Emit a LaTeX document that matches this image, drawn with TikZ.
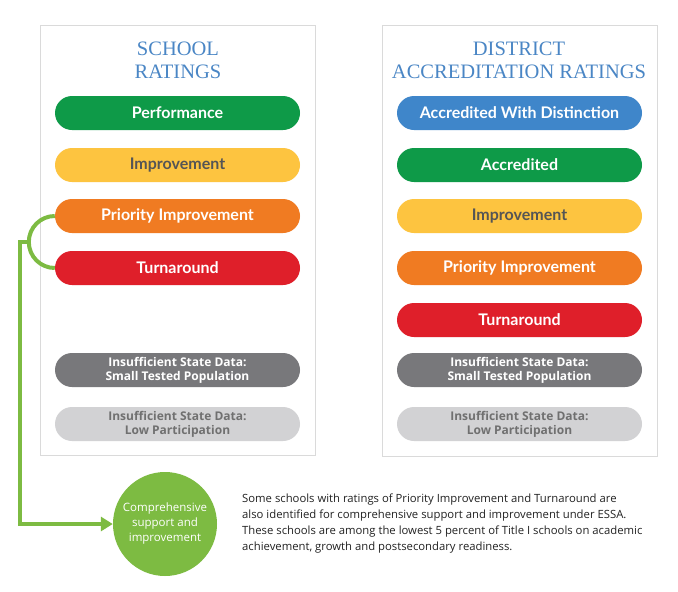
\documentclass[tikz,border=0pt]{standalone}
\usepackage{fontspec}
\setmainfont{Open Sans}
\newfontfamily\pillfont{Lato}[UprightFont={* Bold}]
\newfontfamily\titlefont{Liberation Serif}
\usetikzlibrary{arrows.meta}
\definecolor{ttlblue}{HTML}{4A86C5}
\definecolor{cgreen}{HTML}{0E9A48}
\definecolor{cyellow}{HTML}{FDC440}
\definecolor{corange}{HTML}{F07B22}
\definecolor{cred}{HTML}{DF1F2A}
\definecolor{cblue}{HTML}{3F86CA}
\definecolor{cgray}{HTML}{78787B}
\definecolor{clgray}{HTML}{D2D2D4}
\definecolor{lime}{HTML}{7DBB42}
\definecolor{panelline}{HTML}{DADADA}
\definecolor{darktxt}{HTML}{555555}
\definecolor{midtxt}{HTML}{707070}
\definecolor{bodytxt}{HTML}{222222}
\tikzset{
  panel/.style={draw=panelline, line width=1.2pt, fill=white},
  ttl/.style={text=ttlblue, font=\titlefont\fontsize{20.5}{23}\selectfont, align=center},
  pill/.style={rounded corners=17pt, minimum width=245pt, minimum height=34pt, inner sep=0pt, font=\pillfont\fontsize{16}{18}\selectfont, text=white},
  gpill/.style={pill, font=\bfseries\fontsize{12}{14}\selectfont, align=center},
  conn/.style={draw=lime, line width=4pt},
}
\begin{document}
\begin{tikzpicture}[x=1pt,y=-1pt]
\useasboundingbox[fill=white] (0,0) rectangle (678,592);
% panels
\node[panel, minimum width=275pt, minimum height=430pt, anchor=north west, inner sep=0pt] (lpanel) at (40,25) {};
\node[panel, minimum width=275pt, minimum height=431pt, anchor=north west, inner sep=0pt] (rpanel) at (382,25) {};
% titles
\node[ttl] (lt1) at (178,49) {SCHOOL};
\node[ttl] (lt2) at (178,72) {RATINGS};
\node[ttl] (rt1) at (519,49) {DISTRICT};
\node[ttl] (rt2) at (519,72) {ACCREDITATION RATINGS};
% left pills
\node[pill, fill=cgreen] (lperf) at (177.5,113) {Performance};
\node[pill, fill=cyellow, text=darktxt] (limp) at (177.5,165) {Improvement};
\node[pill, fill=corange] (lpri) at (177.5,216) {Priority Improvement};
\node[pill, fill=cred] (lturn) at (177.5,268) {Turnaround};
\node[gpill, fill=cgray] (lg1) at (177.5,370) {Insufficient State Data:\\Small Tested Population};
\node[gpill, fill=clgray, text=midtxt] (lg2) at (177.5,424) {Insufficient State Data:\\Low Participation};
% right pills
\node[pill, fill=cblue] (rdis) at (519.5,113) {Accredited With Distinction};
\node[pill, fill=cgreen] (racc) at (519.5,165) {Accredited};
\node[pill, fill=cyellow, text=darktxt] (rimp) at (519.5,216) {Improvement};
\node[pill, fill=corange] (rpri) at (519.5,268) {Priority Improvement};
\node[pill, fill=cred] (rturn) at (519.5,320) {Turnaround};
\node[gpill, fill=cgray] (rg1) at (519.5,370) {Insufficient State Data:\\Small Tested Population};
\node[gpill, fill=clgray, text=midtxt] (rg2) at (519.5,424) {Insufficient State Data:\\Low Participation};
% circle
\node[circle, fill=lime, minimum size=104pt, inner sep=0pt, text=white, align=center,
      font=\fontsize{11.5}{15}\selectfont] (csi) at (165,524) {Comprehensive\\support and\\improvement};
% connector
\draw[conn] (lpri.west) arc[start angle=90, end angle=270, radius=26pt];
\coordinate (amid) at (29,242);
\draw[conn, -{Triangle[length=12pt,width=14pt]}] (amid) -- (20,242) |- (csi.west);
% paragraph
\node[anchor=north west, align=left, text=bodytxt, inner sep=0pt,
      font=\fontsize{11.3}{16}\selectfont] (para) at (242,494)
 {Some schools with ratings of Priority Improvement and Turnaround are\\
  also identified for comprehensive support and improvement under ESSA.\\
  These schools are among the lowest 5 percent of Title I schools on academic\\
  achievement, growth and postsecondary readiness.};
\end{tikzpicture}
\end{document}
